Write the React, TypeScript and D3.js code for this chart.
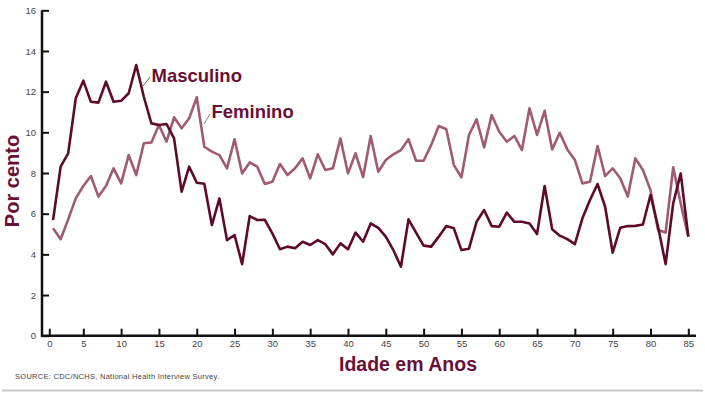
import React, { useEffect, useRef } from "react";
import * as d3 from "d3";

const ages = d3.range(1, 86);

// Masculino, per cent, ages 1..85
const masculino = [
	5.68, 8.31, 8.97, 11.67, 12.54, 11.5, 11.46, 12.49, 11.5, 11.55,
	11.92, 13.31, 11.75, 10.44, 10.36, 10.41, 9.7, 7.08, 8.31, 7.52,
	7.47, 5.44, 6.75, 4.7, 4.95, 3.52, 5.88, 5.69, 5.7, 5.03,
	4.25, 4.38, 4.3, 4.62, 4.46, 4.7, 4.5, 4.0, 4.54, 4.25,
	5.07, 4.62, 5.52, 5.3, 4.87, 4.21, 3.39, 5.72, 5.07, 4.43,
	4.38, 4.87, 5.39, 5.28, 4.21, 4.28, 5.6, 6.18, 5.39, 5.36,
	6.05, 5.6, 5.6, 5.52, 5.0, 7.36, 5.23, 4.92, 4.75, 4.5,
	5.77, 6.67, 7.46, 6.34, 4.08, 5.31, 5.39, 5.4, 5.47, 6.92,
	5.36, 3.52, 6.5, 7.98, 4.87
];

// Feminino, per cent, ages 1..85
const feminino = [
	5.28, 4.74, 5.72, 6.75, 7.36, 7.85, 6.84, 7.36, 8.23, 7.49,
	8.88, 7.9, 9.46, 9.5, 10.36, 9.54, 10.74, 10.2, 10.69, 11.72,
	9.29, 9.05, 8.88, 8.23, 9.66, 7.98, 8.52, 8.31, 7.46, 7.57,
	8.44, 7.9, 8.23, 8.72, 7.74, 8.92, 8.15, 8.23, 9.7, 7.98,
	8.97, 7.8, 9.82, 8.06, 8.64, 8.92, 9.13, 9.66, 8.6, 8.6,
	9.38, 10.31, 10.15, 8.39, 7.79, 9.87, 10.64, 9.26, 10.85, 10.03,
	9.54, 9.82, 9.13, 11.18, 9.87, 11.06, 9.16, 9.98, 9.16, 8.64,
	7.49, 7.57, 9.33, 7.85, 8.23, 7.74, 6.84, 8.72, 8.15, 7.16,
	5.2, 5.07, 8.28, 6.5, 4.87
];

const xTicks = [0.5, 5, 10, 15, 20, 25, 30, 35, 40, 45, 50, 55, 60, 65, 70, 75, 80, 85];
const yTicks = [0, 2, 4, 6, 8, 10, 12, 14, 16];

const W = 705;
const H = 393;
const maroon = "#5e0b2b";
const rose = "#a05a72";
const titleColor = "#6a0f36";

const App = () => {
	const ref = useRef<SVGSVGElement>(null);

	useEffect(() => {
		const svg = d3.select(ref.current);
		svg.selectAll("*").remove();
		const font = "Liberation Sans, Arial, sans-serif";

		const x = d3.scaleLinear().domain([0, 85]).range([45.5, 688.3]);
		const y = d3.scaleLinear().domain([0, 16]).range([335.7, 10.3]);

		//Axes
		const yAxis = d3
			.axisLeft(y)
			.tickValues(yTicks)
			.tickSize(0)
			.tickPadding(6);
		const gy = svg
			.append("g")
			.attr("transform", "translate(42,0)")
			.call(yAxis);
		gy.select(".domain").remove();
		gy.selectAll("text")
			.attr("font-family", font)
			.attr("font-size", 9.5)
			.attr("fill", "#444");
		gy.selectAll(".tick")
			.append("line")
			.attr("x1", 0)
			.attr("x2", 7)
			.attr("stroke", "#111")
			.attr("stroke-width", 2);

		const xAxis = d3
			.axisBottom(x)
			.tickValues(xTicks)
			.tickFormat(d => String(Math.floor(+d)))
			.tickSize(0)
			.tickPadding(5);
		const gx = svg
			.append("g")
			.attr("transform", "translate(0,335.7)")
			.call(xAxis);
		gx.select(".domain").remove();
		gx.selectAll("text")
			.attr("font-family", font)
			.attr("font-size", 9.5)
			.attr("fill", "#444");
		gx.selectAll(".tick")
			.append("line")
			.attr("y1", 0)
			.attr("y2", -7)
			.attr("stroke", "#111")
			.attr("stroke-width", 2);

		// axis lines
		svg.append("line")
			.attr("x1", 42)
			.attr("x2", 42)
			.attr("y1", y(16))
			.attr("y2", y(0) + 1)
			.attr("stroke", "#111")
			.attr("stroke-width", 2.5);
		svg.append("line")
			.attr("x1", 41)
			.attr("x2", 696)
			.attr("y1", y(0))
			.attr("y2", y(0))
			.attr("stroke", "#111")
			.attr("stroke-width", 2.5);

		//Lines
		const mk = (vals: number[]) =>
			d3
				.line<number>()
				.x((_, i) => x(ages[i]))
				.y(d => y(d))(vals);

		svg.append("path")
			.attr("d", mk(feminino))
			.attr("fill", "none")
			.attr("stroke", rose)
			.attr("stroke-width", 2.6)
			.attr("stroke-linejoin", "round");
		svg.append("path")
			.attr("d", mk(masculino))
			.attr("fill", "none")
			.attr("stroke", maroon)
			.attr("stroke-width", 2.6)
			.attr("stroke-linejoin", "round");

		// series labels + leaders
		svg.append("line")
			.attr("x1", 150)
			.attr("y1", 77)
			.attr("x2", 143)
			.attr("y2", 86)
			.attr("stroke", "#666")
			.attr("stroke-width", 1);
		svg.append("text")
			.attr("x", 151.5)
			.attr("y", 81.7)
			.attr("font-family", font)
			.attr("font-weight", "bold")
			.attr("font-size", 18.5)
			.attr("fill", titleColor)
			.text("Masculino");
		svg.append("line")
			.attr("x1", 210)
			.attr("y1", 114)
			.attr("x2", 204)
			.attr("y2", 124)
			.attr("stroke", "#888")
			.attr("stroke-width", 1);
		svg.append("text")
			.attr("x", 211.5)
			.attr("y", 118.3)
			.attr("font-family", font)
			.attr("font-weight", "bold")
			.attr("font-size", 18.5)
			.attr("fill", titleColor)
			.text("Feminino");

		// axis titles
		svg.append("text")
			.attr("transform", "translate(19,181) rotate(-90)")
			.attr("text-anchor", "middle")
			.attr("font-family", font)
			.attr("font-weight", "bold")
			.attr("font-size", 20)
			.attr("fill", titleColor)
			.text("Por cento");
		svg.append("text")
			.attr("x", 408)
			.attr("y", 371)
			.attr("text-anchor", "middle")
			.attr("font-family", font)
			.attr("font-weight", "bold")
			.attr("font-size", 19.5)
			.attr("fill", titleColor)
			.text("Idade em Anos");

		svg.append("text")
			.attr("x", 15)
			.attr("y", 379)
			.attr("font-family", font)
			.attr("font-size", 7.5)
			.attr("fill", "#444")
			.attr("textLength", 204)
			.text("SOURCE: CDC/NCHS, National Health Interview Survey.");

		svg.append("line")
			.attr("x1", 2)
			.attr("x2", 703)
			.attr("y1", 390.5)
			.attr("y2", 390.5)
			.attr("stroke", "#c8c8c8")
			.attr("stroke-width", 2);
	}, []);

	return (
		<svg
			ref={ref}
			width={W}
			height={H}
			style={{ position: "absolute", left: 0, top: 0, background: "#fff" }}
		/>
	);
};

export default App;
